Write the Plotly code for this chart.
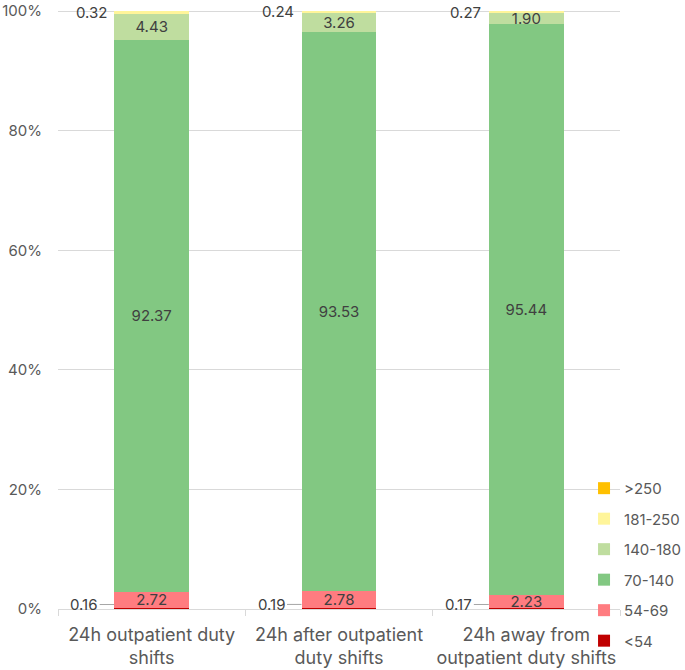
import plotly.graph_objects as go

categories = ["24h outpatient duty<br>shifts", "24h after outpatient<br>duty shifts", "24h away from<br>outpatient duty shifts"]
series_names = ["<54", "54-69", "70-140", "140-180", "181-250", ">250"]
v_lt54 = [0.16, 0.19, 0.17]
v_54_69 = [2.72, 2.78, 2.23]
v_70_140 = [92.37, 93.53, 95.44]
v_140_180 = [4.43, 3.26, 1.90]
v_181_250 = [0.32, 0.24, 0.27]
v_gt250 = [0.0, 0.0, 0.0]
series_values = [v_lt54, v_54_69, v_70_140, v_140_180, v_181_250, v_gt250]
colors = ["#C00000", "#FF7C80", "#82C882", "#BFDD9F", "#FFF59A", "#FFC000"]
inside_label = [False, True, True, True, False, False]
y_tickvals = [0, 0.2, 0.4, 0.6, 0.8, 1.0]
y_ticktext = ["0%", "20%", "40%", "60%", "80%", "100%"]

fig = go.Figure()
n = len(series_names)
for i, (name, vals) in enumerate(zip(series_names, series_values)):
    fig.add_trace(go.Bar(
        x=categories, y=[v / 100 for v in vals], name=name,
        marker=dict(color=colors[i], line=dict(width=0)),
        width=0.4,
        text=[f"{v:.2f}" for v in vals] if inside_label[i] else None,
        textposition="inside" if inside_label[i] else "none",
        insidetextanchor="middle",
        textfont=dict(color="#404040", size=15),
        legendgroup=name,
        legendrank=n - i,
        hoverinfo="skip",
    ))

annotations = []
for j, cat in enumerate(categories):
    annotations.append(dict(
        x=cat, y=v_lt54[j] / 200, xref="x", yref="y",
        text=f"{v_lt54[j]:.2f}", showarrow=True, arrowhead=0, arrowwidth=1,
        arrowcolor="#A6A6A6", ax=-30, ay=0, xshift=-37.5, yshift=4,
        font=dict(color="#404040", size=15),
    ))
    top_mid = (100 - v_gt250[j] - v_181_250[j] / 2) / 100
    annotations.append(dict(
        x=cat, y=top_mid, xref="x", yref="y",
        text=f"{v_181_250[j]:.2f}", showarrow=False, xanchor="right",
        xshift=-43, yshift=0,
        font=dict(color="#404040", size=15),
    ))

fig.update_layout(
    width=685, height=670,
    barmode="stack",
    margin=dict(l=58, r=65, t=10, b=61, autoexpand=False),
    paper_bgcolor="white", plot_bgcolor="white",
    font=dict(family="Inter, Open Sans, sans-serif", color="#595959", size=15),
    uniformtext=dict(minsize=15, mode="show"),
    showlegend=True,
    legend=dict(x=0.936, xanchor="left", y=-0.08, yanchor="bottom",
                traceorder="grouped", tracegroupgap=8,
                font=dict(size=15, color="#595959"), bgcolor="rgba(0,0,0,0)",
                itemwidth=30),
    annotations=annotations,
)
fig.update_yaxes(range=[0, 1.002], tickvals=y_tickvals, ticktext=y_ticktext, showgrid=True,
                 gridcolor="#D9D9D9", gridwidth=1, zeroline=False,
                 ticklabeloverflow="allow",
                 tickfont=dict(size=15, color="#595959"), ticks="", ticklabelstandoff=15)
fig.update_xaxes(showline=True, linecolor="#D9D9D9", linewidth=1, ticks="outside",
                 tickson="boundaries", ticklen=6, tickcolor="#D9D9D9", tickangle=0,
                 ticklabelstandoff=9,
                 tickfont=dict(size=18, color="#595959"))

fig.write_html("out.html")
